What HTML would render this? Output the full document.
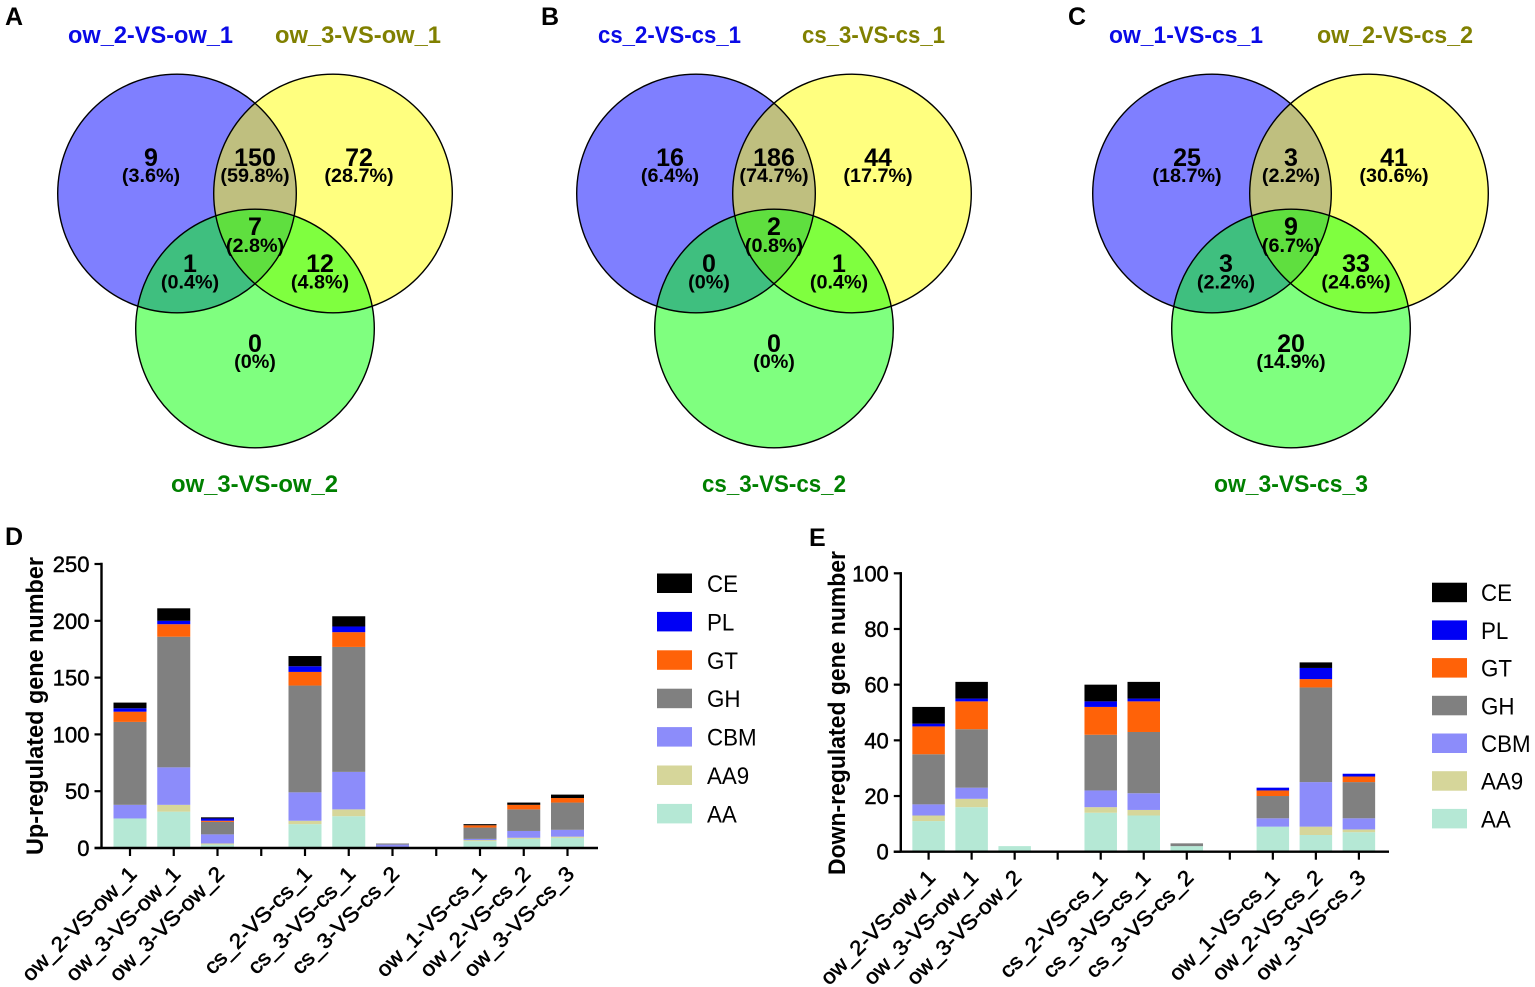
<!DOCTYPE html>
<html lang="en">
<head>
<meta charset="utf-8">
<title>Venn diagrams and CAZyme stacked bars</title>
<style>
html,body{margin:0;padding:0;background:#fff;width:1535px;height:987px;overflow:hidden}
svg{display:block;font-family:"Liberation Sans",sans-serif}
.num{font-weight:700;font-size:25px;text-anchor:middle;fill:#000}
.pct{font-weight:700;font-size:19.8px;text-anchor:middle;fill:#000}
.ttl{font-weight:700;font-size:24.5px;text-anchor:middle}
.panel{font-weight:700;font-size:25px;fill:#000}
</style>
</head>
<body>
<svg id="figure" xmlns="http://www.w3.org/2000/svg" width="1535" height="987" viewBox="0 0 1535 987">
<rect x="0" y="0" width="1535" height="987" fill="#fff"/>
<text class="panel" x="5" y="25">A</text>
<text class="panel" x="541" y="25">B</text>
<text class="panel" x="1068" y="25">C</text>
<text class="panel" x="5" y="545">D</text>
<text class="panel" x="809" y="546">E</text>

<g>
<circle cx="177" cy="193.5" r="119.3" fill="#0000ff" fill-opacity=".5"/>
<circle cx="333" cy="193.5" r="119.3" fill="#ffff00" fill-opacity=".5"/>
<circle cx="255" cy="328.5" r="119.3" fill="#00ff00" fill-opacity=".5"/>
<g fill="none" stroke="#000" stroke-width="1.4"><circle cx="177" cy="193.5" r="119.3"/><circle cx="333" cy="193.5" r="119.3"/><circle cx="255" cy="328.5" r="119.3"/></g>
<text class="ttl" x="150.5" y="43" fill="#0a0ae6" textLength="165" lengthAdjust="spacingAndGlyphs">ow_2-VS-ow_1</text>
<text class="ttl" x="358" y="43" fill="#808000" textLength="166" lengthAdjust="spacingAndGlyphs">ow_3-VS-ow_1</text>
<text class="ttl" x="254.5" y="492" fill="#008000" textLength="167" lengthAdjust="spacingAndGlyphs">ow_3-VS-ow_2</text>
<text class="num" x="151" y="166">9</text><text class="pct" x="151" y="182">(3.6%)</text>
<text class="num" x="255" y="166">150</text><text class="pct" x="255" y="182">(59.8%)</text>
<text class="num" x="359" y="166">72</text><text class="pct" x="359" y="182">(28.7%)</text>
<text class="num" x="255" y="235">7</text><text class="pct" x="255" y="252">(2.8%)</text>
<text class="num" x="190" y="272">1</text><text class="pct" x="190" y="288.5">(0.4%)</text>
<text class="num" x="320" y="272">12</text><text class="pct" x="320" y="288.5">(4.8%)</text>
<text class="num" x="255" y="352">0</text><text class="pct" x="255" y="368">(0%)</text>
</g>

<g>
<circle cx="696" cy="193.5" r="119.3" fill="#0000ff" fill-opacity=".5"/>
<circle cx="852" cy="193.5" r="119.3" fill="#ffff00" fill-opacity=".5"/>
<circle cx="774" cy="328.5" r="119.3" fill="#00ff00" fill-opacity=".5"/>
<g fill="none" stroke="#000" stroke-width="1.4"><circle cx="696" cy="193.5" r="119.3"/><circle cx="852" cy="193.5" r="119.3"/><circle cx="774" cy="328.5" r="119.3"/></g>
<text class="ttl" x="669.5" y="43" fill="#0a0ae6" textLength="143" lengthAdjust="spacingAndGlyphs">cs_2-VS-cs_1</text>
<text class="ttl" x="873.5" y="43" fill="#808000" textLength="143" lengthAdjust="spacingAndGlyphs">cs_3-VS-cs_1</text>
<text class="ttl" x="774" y="492" fill="#008000" textLength="144" lengthAdjust="spacingAndGlyphs">cs_3-VS-cs_2</text>
<text class="num" x="670" y="166">16</text><text class="pct" x="670" y="182">(6.4%)</text>
<text class="num" x="774" y="166">186</text><text class="pct" x="774" y="182">(74.7%)</text>
<text class="num" x="878" y="166">44</text><text class="pct" x="878" y="182">(17.7%)</text>
<text class="num" x="774" y="235">2</text><text class="pct" x="774" y="252">(0.8%)</text>
<text class="num" x="709" y="272">0</text><text class="pct" x="709" y="288.5">(0%)</text>
<text class="num" x="839" y="272">1</text><text class="pct" x="839" y="288.5">(0.4%)</text>
<text class="num" x="774" y="352">0</text><text class="pct" x="774" y="368">(0%)</text>
</g>

<g>
<circle cx="1212" cy="193.5" r="119.3" fill="#0000ff" fill-opacity=".5"/>
<circle cx="1369" cy="193.5" r="119.3" fill="#ffff00" fill-opacity=".5"/>
<circle cx="1291" cy="328.5" r="119.3" fill="#00ff00" fill-opacity=".5"/>
<g fill="none" stroke="#000" stroke-width="1.4"><circle cx="1212" cy="193.5" r="119.3"/><circle cx="1369" cy="193.5" r="119.3"/><circle cx="1291" cy="328.5" r="119.3"/></g>
<text class="ttl" x="1186" y="43" fill="#0a0ae6" textLength="154" lengthAdjust="spacingAndGlyphs">ow_1-VS-cs_1</text>
<text class="ttl" x="1395" y="43" fill="#808000" textLength="156" lengthAdjust="spacingAndGlyphs">ow_2-VS-cs_2</text>
<text class="ttl" x="1291" y="492" fill="#008000" textLength="154" lengthAdjust="spacingAndGlyphs">ow_3-VS-cs_3</text>
<text class="num" x="1187" y="166">25</text><text class="pct" x="1187" y="182">(18.7%)</text>
<text class="num" x="1291" y="166">3</text><text class="pct" x="1291" y="182">(2.2%)</text>
<text class="num" x="1394" y="166">41</text><text class="pct" x="1394" y="182">(30.6%)</text>
<text class="num" x="1291" y="235">9</text><text class="pct" x="1291" y="252">(6.7%)</text>
<text class="num" x="1226" y="272">3</text><text class="pct" x="1226" y="288.5">(2.2%)</text>
<text class="num" x="1356" y="272">33</text><text class="pct" x="1356" y="288.5">(24.6%)</text>
<text class="num" x="1291" y="352">20</text><text class="pct" x="1291" y="368">(14.9%)</text>
</g>
<g id="chart-d"></g>
<g id="chart-e"></g>
</svg>
<script>
const categories = ["ow_2-VS-ow_1","ow_3-VS-ow_1","ow_3-VS-ow_2","","cs_2-VS-cs_1","cs_3-VS-cs_1","cs_3-VS-cs_2","","ow_1-VS-cs_1","ow_2-VS-cs_2","ow_3-VS-cs_3"];
const seriesNames = ["AA","AA9","CBM","GH","GT","PL","CE"];
const seriesColors = ["#b5e8d5","#d6d69a","#8c8cfa","#808080","#ff6208","#0000f5","#000000"];

const upTicks = [0,50,100,150,200,250];
const upAA  = [26,32,3,null,21,28,1,null,6,8,9];
const upAA9 = [0,6,1,null,3,6,0,null,1,1,1];
const upCBM = [12,33,8,null,25,33,2,null,1,6,6];
const upGH  = [73,115,11,null,94,110,1,null,10,19,24];
const upGT  = [9,11,1,null,12,13,0,null,2,4,4];
const upPL  = [3,3,2,null,5,5,0,null,0,0,0];
const upCE  = [5,11,1,null,9,9,0,null,1,2,3];

const downTicks = [0,20,40,60,80,100];
const downAA  = [11,16,2,null,14,13,2,null,9,6,7];
const downAA9 = [2,3,0,null,2,2,0,null,0,3,1];
const downCBM = [4,4,0,null,6,6,0,null,3,16,4];
const downGH  = [18,21,0,null,20,22,1,null,8,34,13];
const downGT  = [10,10,0,null,10,11,0,null,2,3,2];
const downPL  = [1,1,0,null,2,1,0,null,1,4,1];
const downCE  = [6,6,0,null,6,6,0,null,0,2,0];

const NS = "http://www.w3.org/2000/svg";

function drawChart(root, prefix, cfg, stacks, ticks) {
  const yScale = v => cfg.y0 - v * (cfg.y0 - cfg.yTop) / ticks[ticks.length - 1];
  const xScale = i => cfg.x0 + i * cfg.step;

  categories.forEach((cat, i) => {
    if (!cat) return;
    let base = 0;
    stacks.forEach((vals, s) => {
      const v = vals[i];
      if (!v) return;
      const r = document.createElementNS(NS, "rect");
      
      
      r.setAttribute("x", xScale(i) - cfg.barW / 2);
      r.setAttribute("y", yScale(base + v));
      r.setAttribute("width", cfg.barW);
      r.setAttribute("height", yScale(base) - yScale(base + v));
      r.setAttribute("fill", seriesColors[s]);
      root.appendChild(r);
      base += v;
    });
  });

  const yAxis = document.createElementNS(NS, "line");
  
  
  yAxis.setAttribute("x1", cfg.axisX); yAxis.setAttribute("x2", cfg.axisX);
  yAxis.setAttribute("y1", yScale(ticks[ticks.length - 1]) - 1.2); yAxis.setAttribute("y2", cfg.y0);
  yAxis.setAttribute("stroke", "#000"); yAxis.setAttribute("stroke-width", "2.4");
  root.appendChild(yAxis);

  const xAxis = document.createElementNS(NS, "line");
  
  
  xAxis.setAttribute("x1", cfg.axisX - 7); xAxis.setAttribute("x2", cfg.axisEnd);
  xAxis.setAttribute("y1", cfg.y0); xAxis.setAttribute("y2", cfg.y0);
  xAxis.setAttribute("stroke", "#000"); xAxis.setAttribute("stroke-width", "2.4");
  root.appendChild(xAxis);

  ticks.forEach(t => {
    const m = document.createElementNS(NS, "line");
    
    
    m.setAttribute("x1", cfg.axisX - 7); m.setAttribute("x2", cfg.axisX);
    m.setAttribute("y1", yScale(t)); m.setAttribute("y2", yScale(t));
    m.setAttribute("stroke", "#000"); m.setAttribute("stroke-width", "2.2");
    root.appendChild(m);
    const l = document.createElementNS(NS, "text");
    
    
    l.setAttribute("x", cfg.axisX - 12);
    l.setAttribute("y", yScale(t) + 8);
    l.setAttribute("text-anchor", "end");
    l.setAttribute("font-size", "22");
    l.setAttribute("font-weight", "400");
    l.setAttribute("stroke", "#000");
    l.setAttribute("stroke-width", "0.45");
    l.textContent = t;
    root.appendChild(l);
  });

  categories.forEach((cat, i) => {
    const m = document.createElementNS(NS, "line");
    
    
    m.setAttribute("x1", xScale(i)); m.setAttribute("x2", xScale(i));
    m.setAttribute("y1", cfg.y0); m.setAttribute("y2", cfg.y0 + 8);
    m.setAttribute("stroke", "#000"); m.setAttribute("stroke-width", "2.2");
    root.appendChild(m);
    if (!cat) return;
    const l = document.createElementNS(NS, "text");
    const lx = xScale(i) + 8;
    const ly = cfg.y0 + 27;
    
    
    l.setAttribute("x", lx);
    l.setAttribute("y", ly);
    l.setAttribute("text-anchor", "end");
    l.setAttribute("font-size", "21");
    l.setAttribute("stroke", "#000");
    l.setAttribute("stroke-width", "0.55");
    l.setAttribute("textLength", cat.startsWith("cs") ? "142" : (cat.endsWith("ow_1") || cat.endsWith("ow_2") ? "152" : "146"));
    l.setAttribute("lengthAdjust", "spacingAndGlyphs");
    l.setAttribute("transform", "rotate(-45 " + lx + " " + ly + ")");
    l.textContent = cat;
    root.appendChild(l);
  });

  const title = document.createElementNS(NS, "text");
  
  
  title.setAttribute("x", cfg.titleX);
  title.setAttribute("y", cfg.titleY);
  title.setAttribute("text-anchor", "middle");
  title.setAttribute("font-size", "24");
  title.setAttribute("font-weight", "700");
  title.setAttribute("textLength", cfg.titleLen);
  title.setAttribute("lengthAdjust", "spacingAndGlyphs");
  title.setAttribute("transform", "rotate(-90 " + cfg.titleX + " " + cfg.titleY + ")");
  title.textContent = cfg.title;
  root.appendChild(title);

  seriesNames.slice().reverse().forEach((name, k) => {
    const color = seriesColors[seriesNames.length - 1 - k];
    const sw = document.createElementNS(NS, "rect");
    
    
    sw.setAttribute("x", cfg.legX);
    sw.setAttribute("y", cfg.legY + k * cfg.legStep);
    sw.setAttribute("width", cfg.legW);
    sw.setAttribute("height", 19.5);
    sw.setAttribute("fill", color);
    root.appendChild(sw);
    const tx = document.createElementNS(NS, "text");
    
    
    tx.setAttribute("x", cfg.legX + cfg.legW + cfg.legGap);
    tx.setAttribute("y", cfg.legY + k * cfg.legStep + 18.5);
    tx.setAttribute("font-size", "24");
    tx.textContent = name;
    root.appendChild(tx);
    tx.setAttribute("textLength", (tx.getComputedTextLength() * 0.93).toFixed(1));
    tx.setAttribute("lengthAdjust", "spacingAndGlyphs");
  });
}

drawChart(document.getElementById("chart-d"), "up", {
  y0: 848, yTop: 564, x0: 130, step: 43.75, barW: 33, axisX: 101.5, axisEnd: 598,
  title: "Up-regulated gene number", titleX: 43, titleY: 706, titleLen: 298,
  legX: 657, legY: 573.5, legStep: 38.4, legW: 35, legGap: 15
}, [upAA, upAA9, upCBM, upGH, upGT, upPL, upCE], upTicks);

drawChart(document.getElementById("chart-e"), "down", {
  y0: 851.7, yTop: 573.3, x0: 928.6, step: 43.03, barW: 32.5, axisX: 900.8, axisEnd: 1389,
  title: "Down-regulated gene number", titleX: 845, titleY: 713, titleLen: 324,
  legX: 1432, legY: 582.7, legStep: 37.7, legW: 35, legGap: 14
}, [downAA, downAA9, downCBM, downGH, downGT, downPL, downCE], downTicks);
</script>
</body>
</html>
